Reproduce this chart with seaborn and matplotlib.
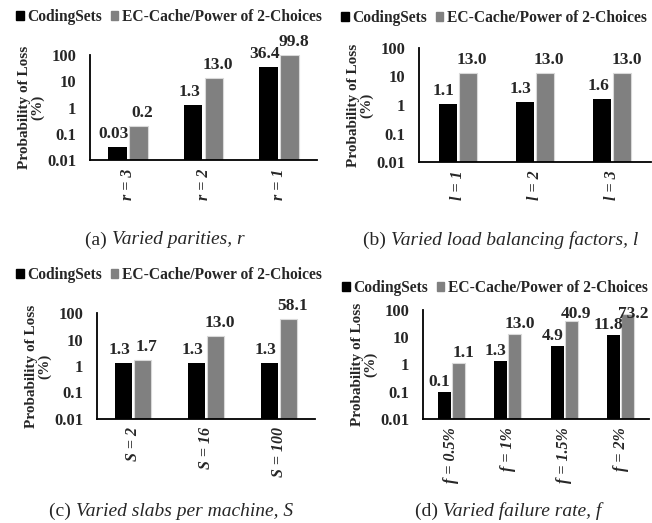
import matplotlib
matplotlib.use("Agg")
import matplotlib.pyplot as plt
from matplotlib.patches import Patch
import seaborn as sns
import pandas as pd

sns.set_style("white")
plt.rcParams["font.family"] = ["Liberation Serif", "DejaVu Serif"]

# ── data ───────────────────────────────────────────────────────────────────
series = ["CodingSets", "EC-Cache/Power of 2-Choices"]
colors = ["#000000", "#808080"]

cats_a = ["r = 3", "r = 2", "r = 1"]
coding_a = [0.03, 1.3, 36.4]
ec_a = [0.2, 13.0, 99.8]

cats_b = ["l = 1", "l = 2", "l = 3"]
coding_b = [1.1, 1.3, 1.6]
ec_b = [13.0, 13.0, 13.0]

cats_c = ["S = 2", "S = 16", "S = 100"]
coding_c = [1.3, 1.3, 1.3]
ec_c = [1.7, 13.0, 58.1]

cats_d = ["f = 0.5%", "f = 1%", "f = 1.5%", "f = 2%"]
coding_d = [0.1, 1.3, 4.9, 11.8]
ec_d = [1.1, 13.0, 40.9, 73.2]

captions = [("(a) ", "Varied parities, r"),
            ("(b) ", "Varied load balancing factors, l"),
            ("(c) ", "Varied slabs per machine, S"),
            ("(d) ", "Varied failure rate, f")]

W, H = 652, 523
fig = plt.figure(figsize=(W / 100, H / 100), dpi=100)


def px_rect(left, right, top, bottom):
    return [left / W, 1 - bottom / H, (right - left) / W, (bottom - top) / H]


def fmt(v):
    return f"{v:.1f}" if v >= 0.1 else f"{v:.2f}"


def panel(rect, cats, coding, ec, width, legend_xy, caption, cap_xy,
          label_ceiling=None, lift=13, spread=4):
    ax = fig.add_axes(rect)
    df = pd.DataFrame({
        "cat": cats * 2,
        "val": coding + ec,
        "series": [series[0]] * len(cats) + [series[1]] * len(cats),
    })
    sns.barplot(data=df, x="cat", y="val", hue="series", hue_order=series,
                palette=colors, width=width, gap=0.1, saturation=1,
                legend=False, ax=ax, edgecolor="none")
    for bar in ax.containers[1]:
        bar.set_edgecolor("#D9D9D9")
        bar.set_linewidth(0.8)
    ax.set_yscale("log", nonpositive="clip")
    ax.set_ylim(0.01, 100)
    ax.set_yticks([0.01, 0.1, 1, 10, 100])
    ax.set_yticklabels(["0.01", "0.1", "1", "10", "100"])
    ax.minorticks_off()
    ax.tick_params(axis="y", length=0, pad=10, labelsize=12)
    ax.tick_params(axis="x", length=0, pad=6, labelsize=11.5)
    for lab in ax.get_yticklabels():
        lab.set_fontweight("bold")
    for lab in ax.get_xticklabels():
        lab.set_fontweight("bold")
        lab.set_fontstyle("italic")
        lab.set_rotation(90)
    ax.set_xlabel("")
    ax.set_ylabel("Probability of Loss\n(%)", fontsize=11,
                  fontweight="bold", labelpad=2, linespacing=0.95)
    sns.despine(ax=ax)
    for side in ["left", "bottom"]:
        ax.spines[side].set_linewidth(1.3)
        ax.spines[side].set_color("black")

    # value labels, nudged apart and kept under the legend like the original
    for cont, vals, dx in zip(ax.containers, [coding, ec], [-spread, spread]):
        for bar, v in zip(cont, vals):
            xc = bar.get_x() + bar.get_width() / 2
            dxp, dyp = ax.transData.transform((xc, v))
            dyp += lift
            if label_ceiling is not None:
                dyp = min(dyp, (H - label_ceiling))
            tx, ty = ax.transData.inverted().transform((dxp + dx, dyp))
            ax.text(tx, ty, fmt(v), ha="center", va="center",
                    fontsize=12.5, fontweight="bold", clip_on=False)

    handles = [Patch(color=c, label=s) for c, s in zip(colors, series)]
    fig.legend(handles=handles, loc="center", ncol=2, frameon=False,
               bbox_to_anchor=(legend_xy[0] / W, 1 - legend_xy[1] / H),
               prop={"weight": "bold", "size": 11.2},
               handlelength=0.5, handleheight=0.5, handletextpad=0.25,
               columnspacing=0.55, borderpad=0, borderaxespad=0)

    t1 = fig.text(0, 1 - cap_xy[1] / H, caption[0], fontsize=14, va="center")
    t2 = fig.text(0, 1 - cap_xy[1] / H, caption[1], fontsize=14,
                  va="center", style="italic")
    fig.canvas.draw()
    r = fig.canvas.get_renderer()
    w1 = t1.get_window_extent(r).width
    w2 = t2.get_window_extent(r).width
    x0 = cap_xy[0] - (w1 + w2) / 2
    t1.set_x(x0 / W)
    t2.set_x((x0 + w1) / W)
    return ax


panel(px_rect(90, 317, 55, 160), cats_a, coding_a, ec_a, 0.55,
      (169, 17), captions[0], (165, 240))
panel(px_rect(419, 651, 48, 162), cats_b, coding_b, ec_b, 0.52,
      (494, 18), captions[1], (501, 240))
panel(px_rect(97, 315, 313, 419), cats_c, coding_c, ec_c, 0.52,
      (169, 275), captions[2], (171, 511))
panel(px_rect(423, 649, 310, 419), cats_d, coding_d, ec_d, 0.5,
      (495, 288), captions[3], (508, 511), label_ceiling=314, lift=10,
      spread=5)

fig.savefig("out.png", dpi=100)
